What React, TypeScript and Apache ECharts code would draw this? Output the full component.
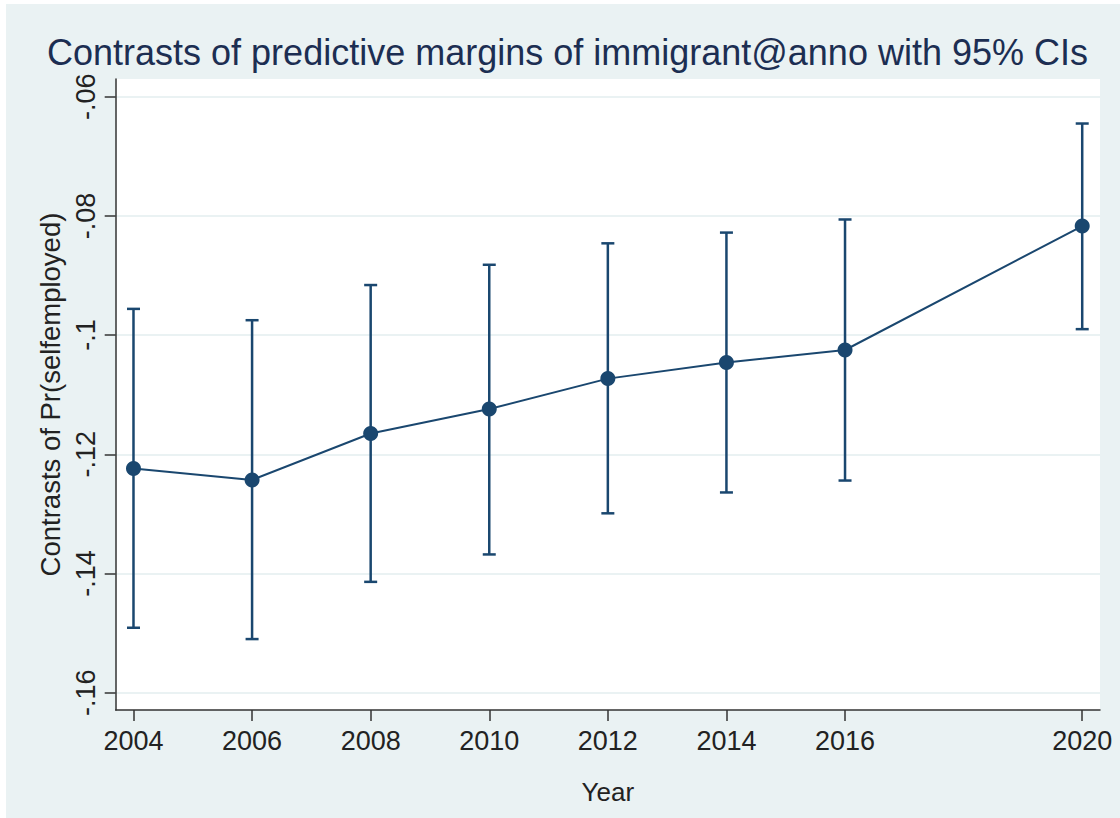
import React, { useEffect, useRef } from "react";
import * as echarts from "echarts";

// Survey years and the contrast of Pr(selfemployed) with its 95% CI
const years = [2004, 2006, 2008, 2010, 2012, 2014, 2016, 2020];
const contrast = [-0.1224, -0.1243, -0.1165, -0.1124, -0.1073, -0.1046, -0.1025, -0.0817];
const ciLower = [-0.1491, -0.151, -0.1414, -0.1368, -0.1299, -0.1264, -0.1244, -0.099];
const ciUpper = [-0.0956, -0.0975, -0.0916, -0.0882, -0.0846, -0.0828, -0.0806, -0.0645];

const xTicks = [2004, 2006, 2008, 2010, 2012, 2014, 2016, 2020];
const yTicks = [-0.16, -0.14, -0.12, -0.1, -0.08, -0.06];

const titleText = "Contrasts of predictive margins of immigrant@anno with 95% CIs";
const yTitle = "Contrasts of Pr(selfemployed)";
const xTitle = "Year";

const NAVY = "#1a476f";
const BG = "#eaf2f3";
const FONT = "'Liberation Sans', Arial, sans-serif";

const fmtY = (v: number) => String(+v.toFixed(2)).replace("0.", ".");

export default function App() {
  const ref = useRef<HTMLDivElement>(null);

  useEffect(() => {
    document.body.style.margin = "0";
    const chart = echarts.init(ref.current!, null, { renderer: "svg" });

    const ciData = years.map((y, i) => [y, ciLower[i], ciUpper[i]]);
    const pointData = years.map((y, i) => [y, contrast[i]]);

    chart.setOption({
      animation: false,
      textStyle: { fontFamily: FONT },
      graphic: [
        {
          type: "rect",
          z: -10,
          shape: { x: 6, y: 4, width: 1114, height: 814 },
          style: { fill: BG },
          silent: true,
        },
        {
          type: "text",
          x: 567.5,
          y: 52.5,
          style: {
            text: titleText,
            fontSize: 36,
            fontFamily: FONT,
            fill: "#1c2e52",
            textAlign: "center",
            textVerticalAlign: "middle",
          },
        },
      ],
      grid: {
        left: 115.7,
        top: 79,
        right: 20,
        bottom: 108,
        show: true,
        backgroundColor: "#ffffff",
        borderWidth: 0,
        z: 0,
      },
      xAxis: {
        type: "value",
        min: 2003.7,
        max: 2020.3,
        name: xTitle,
        nameLocation: "middle",
        nameGap: 69,
        nameTextStyle: { fontSize: 26, color: "#222", fontFamily: FONT },
        axisLine: { show: true, lineStyle: { color: "#333", width: 1.5 } },
        axisTick: { show: true, length: 11, lineStyle: { color: "#333", width: 1.5 }, customValues: xTicks },
        axisLabel: { fontSize: 27, color: "#222", margin: 17, customValues: xTicks, formatter: (v: number) => String(v) },
        splitLine: { show: false },
      },
      yAxis: {
        type: "value",
        min: -0.1629,
        max: -0.05703,
        name: yTitle,
        nameLocation: "middle",
        nameRotate: 90,
        nameGap: 50,
        nameTextStyle: { fontSize: 27.5, color: "#222", fontFamily: FONT },
        axisLine: { show: true, lineStyle: { color: "#333", width: 1.5 } },
        axisTick: { show: true, length: 11, lineStyle: { color: "#333", width: 1.5 }, customValues: yTicks },
        axisLabel: { fontSize: 27, color: "#222", rotate: 90, margin: 16, customValues: yTicks, formatter: fmtY },
        splitLine: { show: true, lineStyle: { color: BG, width: 2 } },
      },
      series: [
        {
          type: "custom",
          z: 2,
          data: ciData,
          renderItem: (params: any, api: any) => {
            const x = api.value(0);
            const lo = api.coord([x, api.value(1)]);
            const hi = api.coord([x, api.value(2)]);
            const half = 6.5;
            const style = { stroke: NAVY, lineWidth: 2.5 };
            return {
              type: "group",
              children: [
                { type: "line", shape: { x1: lo[0], y1: lo[1], x2: hi[0], y2: hi[1] }, style },
                { type: "line", shape: { x1: lo[0] - half, y1: lo[1], x2: lo[0] + half, y2: lo[1] }, style },
                { type: "line", shape: { x1: hi[0] - half, y1: hi[1], x2: hi[0] + half, y2: hi[1] }, style },
              ],
            };
          },
        },
        {
          type: "line",
          z: 3,
          data: pointData,
          symbol: "circle",
          symbolSize: 15,
          itemStyle: { color: NAVY },
          lineStyle: { color: NAVY, width: 2 },
        },
      ],
    });

    return () => chart.dispose();
  }, []);

  return <div ref={ref} style={{ width: 1120, height: 818 }} />;
}
